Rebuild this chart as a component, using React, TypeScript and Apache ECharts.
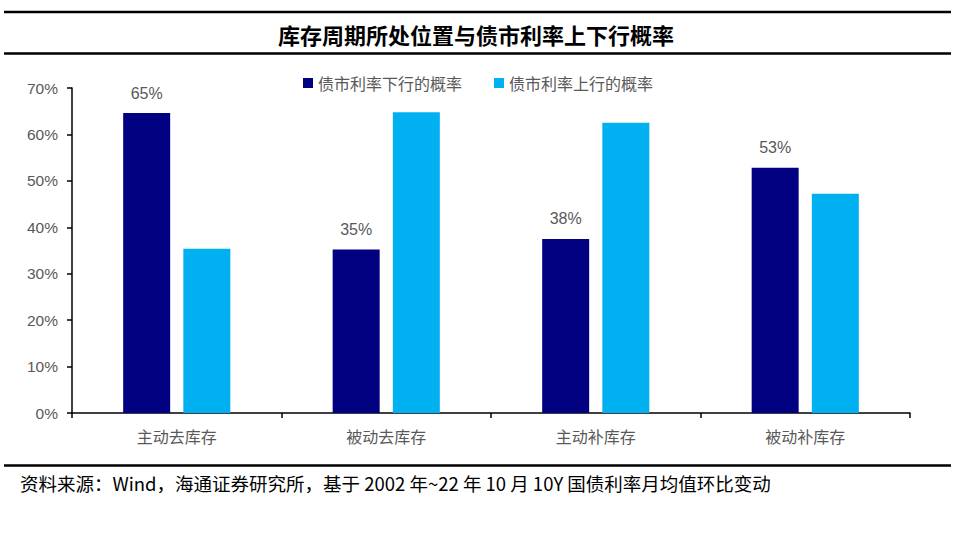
import React, { useEffect, useRef } from "react";
import * as echarts from "echarts";

const categories = ["主动去库存", "被动去库存", "主动补库存", "被动补库存"];
const downProb = [64.6, 35.2, 37.5, 52.8];
const upProb = [35.4, 64.8, 62.5, 47.2];
const seriesNames = ["债市利率下行的概率", "债市利率上行的概率"];
const titleText = "库存周期所处位置与债市利率上下行概率";
const sourceText = "资料来源：Wind，海通证券研究所，基于 2002 年~22 年 10 月 10Y 国债利率月均值环比变动";

export default function App() {
  const ref = useRef<HTMLDivElement>(null);
  useEffect(() => {
    if (!ref.current) return;
    const chart = echarts.init(ref.current, null, { renderer: "svg" });
    const cjk = "'Noto Sans CJK SC', sans-serif";
    chart.setOption({
      animation: false,
      backgroundColor: "#ffffff",
      grid: { left: 72, right: 46, top: 88, bottom: 124, containLabel: false },
      legend: {
        top: 70,
        left: "center",
        itemWidth: 10,
        itemHeight: 10,
        itemGap: 32,
        icon: "rect",
        textStyle: { fontFamily: cjk, fontSize: 16, color: "#595959" },
        data: seriesNames,
      },
      xAxis: {
        type: "category",
        data: categories,
        boundaryGap: true,
        axisLine: { lineStyle: { color: "#000", width: 1.5 } },
        axisTick: { show: true, alignWithLabel: false, length: 5, lineStyle: { color: "#000", width: 1.5 } },
        axisLabel: { fontFamily: cjk, fontSize: 16, color: "#595959", margin: 15 },
      },
      yAxis: {
        type: "value",
        min: 0,
        max: 70,
        interval: 10,
        splitLine: { show: false },
        axisLine: { show: true, lineStyle: { color: "#000", width: 1.5 } },
        axisTick: { show: true, inside: false, length: 5, lineStyle: { color: "#000", width: 1.5 } },
        axisLabel: {
          formatter: (v: number) => `${v}%`,
          fontFamily: "Liberation Sans, Arial, sans-serif",
          fontSize: 15.5,
          color: "#595959",
          margin: 14,
        },
      },
      series: [
        {
          name: seriesNames[0],
          type: "bar",
          data: downProb,
          barWidth: 47,
          barGap: "28%",
          itemStyle: { color: "#000080" },
          label: {
            show: true,
            position: "top",
            distance: 12,
            formatter: (p: any) => `${Math.round(p.value)}%`,
            fontFamily: "Liberation Sans, Arial, sans-serif",
            fontSize: 16,
            color: "#595959",
          },
        },
        {
          name: seriesNames[1],
          type: "bar",
          data: upProb,
          barWidth: 47,
          itemStyle: { color: "#00B0F0" },
        },
      ],
      graphic: [
        { type: "line", shape: { x1: 4, y1: 12, x2: 951, y2: 12 }, style: { stroke: "#000", lineWidth: 2.5 } },
        { type: "line", shape: { x1: 4, y1: 53.5, x2: 951, y2: 53.5 }, style: { stroke: "#000", lineWidth: 2.5 } },
        { type: "line", shape: { x1: 4, y1: 465.5, x2: 951, y2: 465.5 }, style: { stroke: "#000", lineWidth: 2.5 } },
        {
          type: "text",
          x: 476,
          y: 34,
          style: {
            text: titleText,
            font: `bold 22px ${cjk}`,
            fill: "#000",
            textAlign: "center",
            textVerticalAlign: "middle",
          },
        },
        {
          type: "text",
          x: 20,
          y: 483,
          style: {
            text: sourceText,
            font: `18.5px ${cjk}`,
            fill: "#000",
            textAlign: "left",
            textVerticalAlign: "middle",
          },
        },
      ],
    });
    return () => chart.dispose();
  }, []);
  return (
    <div
      ref={ref}
      style={{ position: "fixed", left: 0, top: 0, width: 956, height: 537, background: "#fff" }}
    />
  );
}
